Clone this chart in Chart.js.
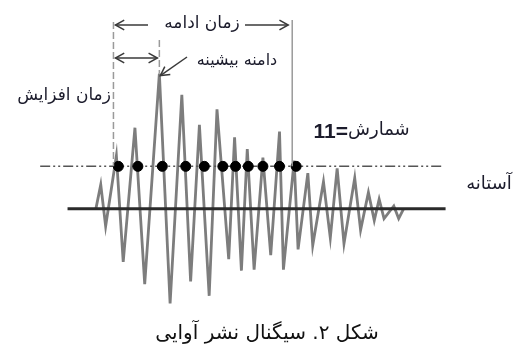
<!DOCTYPE html>
<html>
<head>
<meta charset="utf-8">
<script src="https://cdn.jsdelivr.net/npm/chart.js@4"></script>
<style>
  body { margin: 0; background: #fff; }
  canvas { display: block; }
</style>
</head>
<body>
<canvas id="myChart" width="518" height="353"></canvas>
<script>
// 신호 꼭짓점 : 시간(t) / 진폭(amp)
const times = [2, 7, 12, 23, 30, 42, 52, 67, 78, 90, 99, 108, 118, 126, 138, 144, 151, 157, 164, 173,
               181, 190, 194, 205, 209, 219, 224, 235, 242, 249, 256, 267, 273, 281, 287, 292, 297, 307, 312, 317];
const amps  = [0, 25, -18, 55, -55, 84, -78, 140, -98, 118, -75, 87, -90, 103, -52, 74, -64, 62, -63, 53,
               -48, 80, -63, 50, -42, 37, -38, 28, -30, 42, -36, 32, -22, 17, -12, 10, -10, 3, -10, 0];

const threshold = 44;                                            // 문턱값
const hitTimes = [25, 45, 70, 94, 113, 132, 145, 158, 173, 190, 207]; // 문턱 넘은 지점
const riseStart = 20, peakTime = 67, peakAmp = 140, durationEnd = 203;
const baseRange = [-27, 360];     // 기준선 시작/끝
const threshRange = [-55, 357];   // 문턱선 시작/끝

// 라벨
const txtDuration = 'زمان ادامه';
const txtPeak = 'دامنه بیشینه';
const txtRise = 'زمان افزایش';
const txtThreshold = 'آستانه';
const txtCount = 'شمارش';
const txtCaption = 'شکل ۲. سیگنال نشر آوایی';

const wave = times.map((t, i) => ({ x: t, y: amps[i] }));
const hits = hitTimes.map(t => ({ x: t, y: threshold }));

const ARFONT = '"DejaVu Sans", sans-serif';

function arrowHead(ctx, x1, y1, x2, y2, len) {
  const a = Math.atan2(y2 - y1, x2 - x1);
  ctx.beginPath();
  ctx.moveTo(x2 - len * Math.cos(a - 0.5), y2 - len * Math.sin(a - 0.5));
  ctx.lineTo(x2, y2);
  ctx.lineTo(x2 - len * Math.cos(a + 0.5), y2 - len * Math.sin(a + 0.5));
  ctx.stroke();
}
function arrow(ctx, x1, y1, x2, y2) {
  ctx.beginPath(); ctx.moveTo(x1, y1); ctx.lineTo(x2, y2); ctx.stroke();
  arrowHead(ctx, x1, y1, x2, y2, 10);
}
function seg(ctx, x1, y1, x2, y2) {
  ctx.beginPath(); ctx.moveTo(x1, y1); ctx.lineTo(x2, y2); ctx.stroke();
}

// 주석 (화살표, 세로선, 글자)
const notes = {
  id: 'notes',
  afterDatasetsDraw(chart) {
    const { ctx, scales: { x, y } } = chart;
    const px = v => x.getPixelForValue(v), py = v => y.getPixelForValue(v);
    ctx.save();

    // 세로 점선
    ctx.strokeStyle = '#9a9a9a';
    ctx.lineWidth = 1.5;
    ctx.setLineDash([7, 3]);
    seg(ctx, px(riseStart), 22, px(riseStart), py(threshold));
    seg(ctx, px(peakTime), 40, px(peakTime), py(peakAmp));
    ctx.setLineDash([]);
    seg(ctx, px(durationEnd), 20, px(durationEnd), py(threshold));

    // 화살표
    ctx.strokeStyle = '#3a3a3a';
    ctx.lineWidth = 1.5;
    arrow(ctx, 148, 25, px(riseStart) + 2, 25);
    arrow(ctx, 245, 25, px(durationEnd) - 4, 25);
    const ay = 58;
    seg(ctx, px(riseStart) + 2, ay, px(peakTime) - 2, ay);
    arrowHead(ctx, px(peakTime), ay, px(riseStart) + 2, ay, 10);
    arrowHead(ctx, px(riseStart), ay, px(peakTime) - 2, ay, 10);
    arrow(ctx, 187, 57, px(peakTime) + 1, py(peakAmp) + 2);

    // 글자
    ctx.fillStyle = '#1c1c2c';
    ctx.textBaseline = 'middle';
    ctx.textAlign = 'center';
    ctx.direction = 'rtl';
    ctx.font = '17px ' + ARFONT;
    ctx.fillText(txtDuration, 202, 24);
    ctx.font = '16px ' + ARFONT;
    ctx.fillText(txtPeak, 237, 61);
    ctx.font = '17px ' + ARFONT;
    ctx.fillText(txtRise, 64, 96);
    ctx.font = '18px ' + ARFONT;
    ctx.fillText(txtThreshold, 489, 184);

    ctx.direction = 'ltr';
    ctx.textAlign = 'right';
    ctx.textBaseline = 'alphabetic';
    ctx.font = 'bold 21px "Liberation Sans", Arial, sans-serif';
    ctx.fillText(hitTimes.length + '=', 348, 138);
    ctx.textAlign = 'left';
    ctx.font = '18px ' + ARFONT;
    ctx.fillText(txtCount, 348, 135);

    ctx.direction = 'rtl';
    ctx.textAlign = 'center';
    ctx.fillStyle = '#111';
    ctx.font = '20px ' + ARFONT;
    ctx.fillText(txtCaption, 267, 339);
    ctx.restore();
  }
};

const ctx = document.getElementById('myChart');

new Chart(ctx, {
  type: 'scatter',
  data: {
    datasets: [
      { // 문턱 넘은 점
        data: hits,
        backgroundColor: '#000',
        borderColor: '#000',
        pointRadius: 5,
        order: 0
      },
      { // 기준선
        data: [{ x: baseRange[0], y: 0 }, { x: baseRange[1], y: 0 }],
        showLine: true,
        borderColor: '#2a2a2a',
        borderWidth: 3,
        pointRadius: 0,
        order: 1
      },
      { // 문턱선 (일점쇄선)
        data: [{ x: threshRange[0], y: threshold }, { x: threshRange[1], y: threshold }],
        showLine: true,
        borderColor: '#555',
        borderWidth: 1.5,
        borderDash: [10, 3, 2, 3, 2, 3],
        pointRadius: 0,
        order: 2
      },
      { // 신호 파형
        data: wave,
        showLine: true,
        borderColor: '#7d7d7d',
        borderWidth: 2.8,
        pointRadius: 0,
        tension: 0,
        order: 3
      }
    ]
  },
  options: {
    responsive: false,
    animation: false,
    events: [],
    layout: { padding: 0 },
    plugins: { legend: { display: false }, tooltip: { enabled: false } },
    scales: {
      x: { type: 'linear', min: -90, max: 428, display: false },
      y: { type: 'linear', min: -143, max: 210, display: false }
    }
  },
  plugins: [notes]
});
</script>
</body>
</html>
